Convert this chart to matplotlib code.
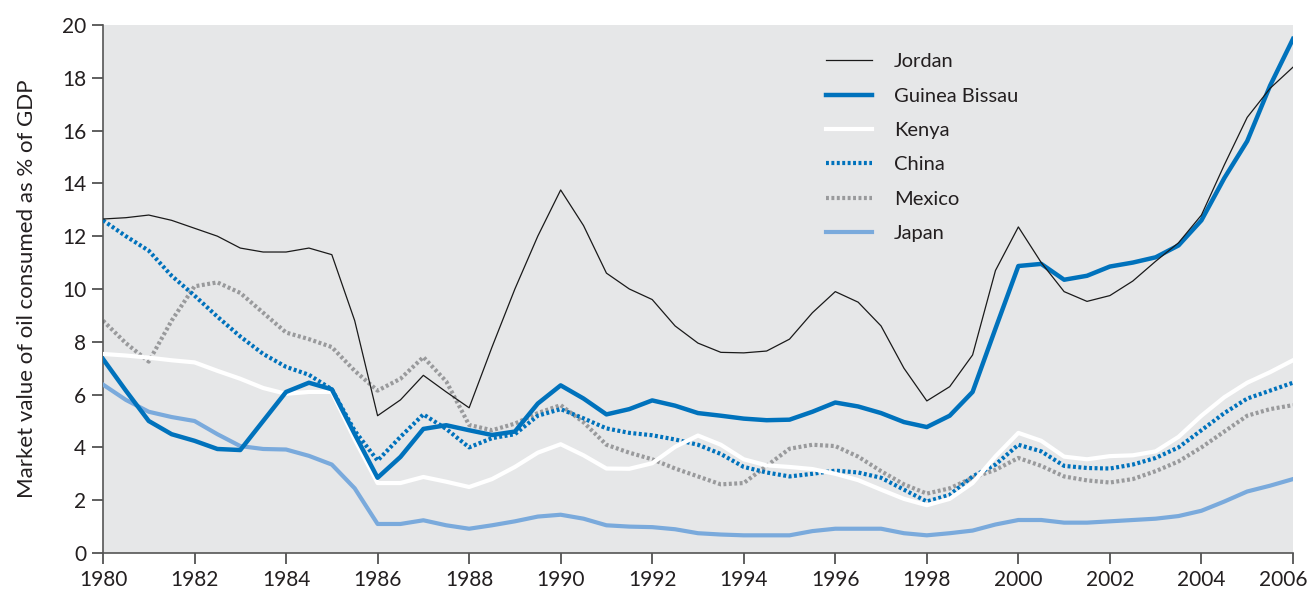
import matplotlib
matplotlib.use("Agg")
import matplotlib.pyplot as plt
import matplotlib.transforms as mtransforms
import numpy as np

plt.rcParams['font.family'] = ['Lato', 'DejaVu Sans']

# half-year grid, 1980 .. 2006
years = np.arange(1980, 2006.01, 0.5)

jordan = [12.65, 12.7, 12.8, 12.6, 12.3, 12.0, 11.55, 11.4, 11.4, 11.55,
          11.3, 8.8, 5.2, 5.8, 6.73, 6.1, 5.5, 7.8, 10.0, 12.0,
          13.75, 12.4, 10.6, 10.0, 9.6, 8.6, 7.95, 7.6, 7.58, 7.65,
          8.1, 9.1, 9.9, 9.5, 8.6, 7.0, 5.76, 6.3, 7.5, 10.7,
          12.35, 11.0, 9.9, 9.53, 9.75, 10.3, 11.05, 11.75, 12.8, 14.7,
          16.5, 17.6, 18.4]
guinea = [7.35, 6.15, 5.0, 4.5, 4.25, 3.94, 3.9, 5.0, 6.1, 6.45,
          6.2, 4.5, 2.85, 3.64, 4.7, 4.84, 4.65, 4.47, 4.6, 5.66,
          6.35, 5.85, 5.25, 5.45, 5.78, 5.58, 5.3, 5.2, 5.09, 5.03,
          5.05, 5.35, 5.7, 5.55, 5.3, 4.96, 4.77, 5.2, 6.1, 8.5,
          10.87, 10.95, 10.35, 10.5, 10.85, 11.0, 11.2, 11.65, 12.6, 14.2,
          15.6, 17.7, 19.47]
kenya = [7.54, 7.48, 7.4, 7.3, 7.22, 6.9, 6.6, 6.25, 6.03, 6.1,
         6.1, 4.3, 2.65, 2.65, 2.88, 2.7, 2.5, 2.8, 3.26, 3.8,
         4.12, 3.7, 3.2, 3.19, 3.4, 4.02, 4.45, 4.1, 3.55, 3.32,
         3.26, 3.18, 3.0, 2.76, 2.4, 2.05, 1.81, 2.05, 2.65, 3.66,
         4.55, 4.25, 3.65, 3.55, 3.67, 3.7, 3.85, 4.4, 5.2, 5.9,
         6.45, 6.85, 7.3]
china = [12.6, 12.0, 11.45, 10.5, 9.75, 8.95, 8.2, 7.54, 7.05, 6.75,
         6.2, 4.63, 3.5, 4.4, 5.25, 4.7, 4.0, 4.35, 4.5, 5.2,
         5.45, 5.1, 4.72, 4.55, 4.46, 4.3, 4.1, 3.75, 3.26, 3.05,
         2.9, 3.0, 3.12, 3.05, 2.85, 2.4, 1.95, 2.2, 2.9, 3.35,
         4.1, 3.85, 3.3, 3.22, 3.2, 3.35, 3.6, 4.0, 4.65, 5.3,
         5.85, 6.15, 6.45]
mexico = [8.8, 7.95, 7.25, 8.8, 10.1, 10.25, 9.85, 9.1, 8.35, 8.1,
          7.8, 6.9, 6.15, 6.6, 7.42, 6.5, 4.85, 4.65, 4.9, 5.3,
          5.6, 4.95, 4.1, 3.8, 3.55, 3.2, 2.9, 2.6, 2.65, 3.3,
          3.95, 4.1, 4.05, 3.65, 3.1, 2.6, 2.25, 2.45, 2.85, 3.15,
          3.6, 3.3, 2.9, 2.75, 2.67, 2.8, 3.1, 3.47, 4.0, 4.6,
          5.2, 5.45, 5.6]
japan = [6.38, 5.8, 5.35, 5.15, 5.0, 4.5, 4.05, 3.94, 3.92, 3.68,
         3.35, 2.45, 1.1, 1.1, 1.24, 1.05, 0.92, 1.05, 1.2, 1.38,
         1.45, 1.3, 1.05, 1.0, 0.98, 0.9, 0.75, 0.7, 0.67, 0.67,
         0.67, 0.83, 0.92, 0.92, 0.92, 0.75, 0.67, 0.75, 0.85, 1.08,
         1.25, 1.25, 1.15, 1.15, 1.2, 1.25, 1.3, 1.4, 1.6, 1.95,
         2.33, 2.55, 2.8]

xticks = list(range(1980, 2007, 2))
yticks = list(range(0, 21, 2))

blue = '#0072bc'
grey = '#999a9c'
light = '#7aaadc'
dots = (0, (0.7, 0.6))

fig = plt.figure(figsize=(13.1, 5.94), dpi=100)
ax = fig.add_axes([0.0786, 0.069, 0.9084, 0.889])
ax.set_facecolor('#e6e7e8')

ax.plot(years, mexico, color=grey, lw=3, ls=dots, dash_capstyle='butt', label='Mexico', zorder=2)
ax.plot(years, china, color=blue, lw=3, ls=dots, dash_capstyle='butt', label='China', zorder=3)
ax.plot(years, kenya, color='white', lw=3, label='Kenya', zorder=4)
ax.plot(years, japan, color=light, lw=3, label='Japan', zorder=4)
ax.plot(years, guinea, color=blue, lw=3.2, label='Guinea Bissau', zorder=5)
ax.plot(years, jordan, color='#1a1a1a', lw=0.9, label='Jordan', zorder=6)

ax.set_xlim(1980, 2006)
ax.set_ylim(0, 20)
ax.set_xticks(xticks)
ax.set_yticks(yticks)
ax.tick_params(axis='both', labelsize=15, color='#444444', length=8, width=1.2,
               labelcolor='#231f20', pad=4)
# last year label sits a bit left so it stays inside the figure
lab = ax.get_xticklabels()[-1]
lab.set_transform(lab.get_transform() + mtransforms.ScaledTranslation(-10 / 100, 0, fig.dpi_scale_trans))
for s in ['top', 'right']:
    ax.spines[s].set_visible(False)
for s in ['left', 'bottom']:
    ax.spines[s].set_color('#555555')
    ax.spines[s].set_linewidth(1.2)
ax.set_ylabel('Market value of oil consumed as % of GDP', fontsize=16, color='#231f20', labelpad=18)

h, l = ax.get_legend_handles_labels()
order = ['Jordan', 'Guinea Bissau', 'Kenya', 'China', 'Mexico', 'Japan']
hd = dict(zip(l, h))
ax.legend([hd[k] for k in order], order, loc='upper left', bbox_to_anchor=(0.592, 0.981),
          frameon=False, fontsize=14.5, handlelength=2.3, handletextpad=1.1,
          labelspacing=0.86, labelcolor='#231f20')

fig.savefig('out.png', dpi=100)
